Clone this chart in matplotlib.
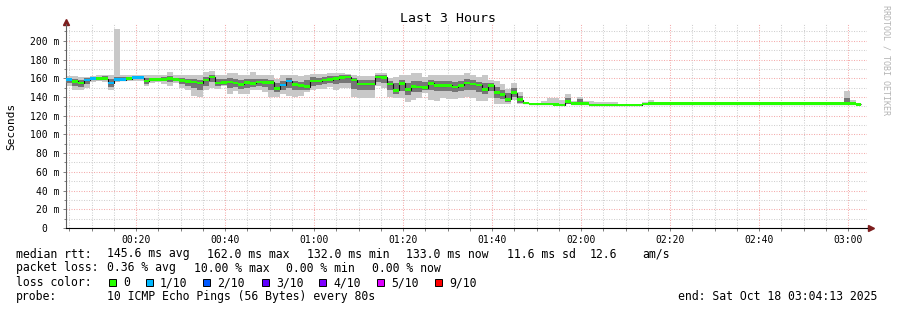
import numpy as np
import matplotlib
matplotlib.use('Agg')
import matplotlib.pyplot as plt
from matplotlib.patches import Rectangle

W, H = 897, 310
plt.rcParams['font.family'] = ['DejaVu Sans Mono']

# probe rounds: one every 80 s, first round starts at ~00:04:18
step_min = 80 / 60
t_first = 4.3
t_start = 4 + 13 / 60          # window start 00:04:13, 3 hours wide

# median rtt per round (ms)
median = [
    158.5, 156.7, 155.0, 158.0, 159.5, 159.5, 159.5, 155.0, 158.5, 158.5,
    159.5, 160.5, 160.5, 157.0, 158.5, 158.5, 159.0, 159.5, 158.5, 157.5,
    156.5, 156.0, 155.0, 158.0, 161.5, 155.0, 155.5, 156.0, 155.0, 153.5,
    155.5, 154.5, 156.0, 155.5, 155.5, 149.0, 153.0, 157.0, 153.5, 152.0,
    151.0, 157.0, 157.0, 158.0, 158.5, 159.5, 161.0, 161.5, 158.0, 154.0,
    154.0, 154.0, 161.5, 161.0, 154.0, 147.0, 154.5, 148.0, 151.0, 150.5,
    150.0, 154.5, 152.0, 152.0, 152.5, 150.5, 152.5, 155.0, 154.0, 153.0,
    148.0, 152.5, 144.5, 142.5, 137.5, 144.5, 137.0, 133.5, 132.5, 132.5,
    132.5, 132.5, 132.0, 131.5, 135.0, 133.0, 133.0, 133.0, 131.5, 131.5,
    131.5, 131.5, 131.5, 131.5, 131.5, 131.5, 131.5, 132.5, 133.0, 133.0,
    133.0, 133.0, 133.0, 133.0, 133.0, 133.0, 133.0, 133.0, 133.0, 133.0,
    133.0, 133.0, 133.0, 133.0, 133.0, 133.0, 133.0, 133.0, 133.0, 133.0,
    133.0, 133.0, 133.0, 133.0, 133.0, 133.0, 133.0, 133.0, 133.0, 133.0,
    133.0, 133.0, 133.0, 132.0,
]
# lost pings per round (out of 10)
loss = [
    1, 0, 0, 1, 1, 0, 0, 1, 1, 1,
    0, 1, 1, 0, 0, 0, 0, 0, 0, 0,
    0, 0, 0, 0, 0, 0, 0, 0, 0, 0,
    0, 0, 0, 0, 0, 0, 1, 1, 0, 0,
    0, 0, 0, 0, 0, 0, 0, 0, 0, 0,
    0, 0, 0, 0, 0, 0, 0, 0, 0, 0,
    0, 0, 0, 0, 0, 0, 0, 0, 0, 0,
    0, 0, 0, 0, 0, 0, 0, 0, 0, 0,
    0, 0, 0, 0, 0, 0, 0, 0, 0, 0,
    0, 0, 0, 0, 0, 0, 0, 0, 0, 0,
    0, 0, 0, 0, 0, 0, 0, 0, 0, 0,
    0, 0, 0, 0, 0, 0, 0, 0, 0, 0,
    0, 0, 0, 0, 0, 0, 0, 0, 0, 0,
    0, 0, 0, 0,
]
# smoke: fastest / slowest ping of each round
smoke_lo = [
    152, 148, 148, 150, 156, 157, 156, 148, 156, 157,
    157, 157, 157, 152, 155, 156, 154, 152, 155, 150,
    147, 141, 140, 147, 150, 149, 152, 143, 146, 143,
    143, 147, 148, 145, 140, 140, 143, 141, 140, 141,
    145, 148, 149, 149, 151, 148, 150, 150, 140, 139,
    139, 139, 152, 150, 140, 139, 139, 135, 137, 139,
    144, 137, 136, 139, 138, 138, 139, 140, 139, 136,
    136, 139, 133, 133, 133, 137, 133, 132, 131, 131,
    131, 131, 131, 131, 132, 132, 132, 132, 131, 131,
    131, 131, 131, 131, 131, 131, 131, 132, 132, 132,
    132, 132, 132, 132, 132, 132, 132, 132, 132, 132,
    132, 132, 132, 132, 132, 132, 132, 132, 132, 132,
    132, 132, 132, 132, 132, 132, 132, 132, 132, 132,
    132, 132, 132, 131,
]
smoke_hi = [
    162, 162, 161, 161, 162, 164, 164, 164, 213, 164,
    163, 163, 164, 164, 163, 164, 164, 167, 163, 163,
    163, 163, 163, 167, 168, 164, 163, 166, 166, 163,
    163, 167, 163, 163, 163, 159, 163, 163, 163, 162,
    163, 165, 165, 165, 166, 166, 166, 165, 163, 162,
    162, 162, 166, 166, 160, 161, 164, 163, 166, 166,
    161, 164, 164, 164, 163, 164, 163, 166, 164, 161,
    164, 158, 157, 154, 149, 155, 145, 134, 134, 134,
    136, 139, 139, 137, 143, 136, 140, 136, 136, 135,
    135, 135, 135, 133, 133, 133, 133, 135, 137, 134,
    134, 134, 134, 134, 134, 134, 134, 134, 134, 134,
    134, 134, 134, 134, 134, 134, 134, 134, 134, 134,
    134, 134, 134, 134, 134, 134, 134, 134, 134, 134,
    134, 146, 137, 134,
]
# denser middle part of the ping spread
core_lo = [
    155, 152, 151, 154, 158, 158, 158, 151, 157, 158,
    158, 159, 159, 154, 157, 157, 157, 156, 157, 154,
    152, 150, 148, 152, 156, 152, 153, 150, 151, 149,
    150, 151, 152, 151, 148, 145, 148, 150, 148, 147,
    148, 152, 153, 154, 155, 154, 155, 155, 149, 147,
    147, 147, 156, 155, 147, 143, 146, 142, 145, 145,
    147, 147, 146, 146, 146, 145, 146, 148, 147, 145,
    143, 146, 139, 138, 135, 140, 134, 132, 132, 132,
    132, 132, 131, 131, 133, 132, 132, 132, 131, 131,
    131, 131, 131, 131, 131, 131, 131, 132, 132, 132,
    132, 132, 132, 132, 132, 132, 132, 132, 132, 132,
    132, 132, 132, 132, 132, 132, 132, 132, 132, 132,
    132, 132, 132, 132, 132, 132, 132, 132, 132, 132,
    132, 132, 132, 131,
]
core_hi = [
    160, 159, 158, 160, 161, 161, 162, 159, 161, 161,
    161, 162, 162, 160, 160, 160, 161, 162, 160, 160,
    159, 159, 158, 161, 163, 159, 159, 160, 159, 158,
    159, 159, 159, 159, 158, 155, 157, 160, 157, 156,
    158, 161, 160, 161, 162, 162, 163, 163, 160, 158,
    158, 158, 164, 163, 157, 155, 158, 155, 157, 157,
    156, 158, 157, 157, 157, 156, 157, 159, 158, 156,
    155, 155, 151, 148, 144, 150, 141, 134, 134, 134,
    134, 134, 134, 133, 139, 134, 138, 134, 133, 133,
    133, 133, 133, 133, 133, 133, 133, 134, 134, 134,
    134, 134, 134, 134, 134, 134, 134, 134, 134, 134,
    134, 134, 134, 134, 134, 134, 134, 134, 134, 134,
    134, 134, 134, 134, 134, 134, 134, 134, 134, 134,
    134, 139, 135, 133,
]

loss_names = ['0', '1/10', '2/10', '3/10', '4/10', '5/10', '9/10']
loss_colors = ['#26ff00', '#00b8ff', '#0059ff', '#5e00ff', '#7e00ff', '#dd00ff', '#ff0000']

x_ticks = [20, 40, 60, 80, 100, 120, 140, 160, 180]
x_labels = ['00:20', '00:40', '01:00', '01:20', '01:40', '02:00', '02:20', '02:40', '03:00']
y_ticks = [0, 20, 40, 60, 80, 100, 120, 140, 160, 180, 200]
y_labels = ['0  ', '20 m', '40 m', '60 m', '80 m', '100 m', '120 m', '140 m',
            '160 m', '180 m', '200 m']

stats_rtt = ['median rtt:', '145.6 ms avg', '162.0 ms max', '132.0 ms min',
             '133.0 ms now', '11.6 ms sd', '12.6', 'am/s']
stats_loss = ['packet loss:', '0.36 % avg', '10.00 % max', '0.00 % min', '0.00 % now']
probe_text = '10 ICMP Echo Pings (56 Bytes) every 80s'
end_text = 'end: Sat Oct 18 03:04:13 2025'


def fx(px):
    return px / W


def fy(py):
    return 1 - py / H


fig = plt.figure(figsize=(W / 100, H / 100), dpi=100)
fig.patch.set_facecolor('white')
ax = fig.add_axes([fx(66), fy(228), 801 / W, 204 / H])
ax.set_facecolor('white')

n = len(median)
edges = t_first + step_min * np.arange(n + 1)
med = np.array(median)
lossa = np.array(loss)

ax.stairs(smoke_hi, edges, baseline=smoke_lo, fill=True, color='#c8c8c8', lw=0, zorder=2)
ax.stairs(core_hi, edges, baseline=core_lo, fill=True, color='#767676', lw=0, zorder=3)
ax.stairs(med, edges, baseline=None, color='#101010', lw=0.8, zorder=4)
half = 1.4
for k, col in enumerate(loss_colors):
    top = np.where(lossa == k, med + half, med - half)
    if (lossa == k).any():
        ax.stairs(top, edges, baseline=med - half, fill=True, color=col, lw=0, zorder=5)

ax.set_xlim(t_start, t_start + 180)
ax.set_ylim(0, 218)
ax.set_xticks(x_ticks)
ax.set_xticklabels(x_labels)
ax.set_xticks(np.arange(5, 181, 5), minor=True)
ax.set_yticks(y_ticks)
ax.set_yticklabels(y_labels)
ax.set_yticks(np.arange(10, 211, 20), minor=True)
ax.set_axisbelow(True)
ax.grid(which='minor', color='#d0d0d0', lw=0.75, linestyle=(0, (1, 1.4)))
ax.grid(which='major', color='#f4acac', lw=0.75, linestyle=(0, (1, 1.4)))
ax.tick_params(which='both', direction='out', length=2.5, width=0.7, color='#808080',
               labelsize=7, pad=2, labelcolor='#000000')
ax.tick_params(axis='y', which='minor', length=1.5)
ax.tick_params(axis='x', pad=2.5)

for s in ['top', 'right']:
    ax.spines[s].set_visible(False)
ax.spines['left'].set_color('#606060')
ax.spines['left'].set_linewidth(0.8)
ax.spines['bottom'].set_color('#000000')
ax.spines['bottom'].set_linewidth(0.8)
ax.plot([1.0, 1.004], [0, 0], color='black', lw=0.8, transform=ax.transAxes, clip_on=False)
ax.plot([0], [1.01], marker='^', ms=4.5, color='#7d1d1d', transform=ax.transAxes, clip_on=False)
ax.plot([1.005], [0], marker='>', ms=4.5, color='#7d1d1d', transform=ax.transAxes, clip_on=False)

fig.text(fx(448), fy(19), 'Last 3 Hours', ha='center', va='center', fontsize=9.5)
fig.text(fx(11), fy(126), 'Seconds', rotation=90, ha='center', va='center', fontsize=8)
fig.text(fx(886), fy(5), 'RRDTOOL / TOBI OETIKER', rotation=270, ha='center', va='top',
         fontsize=6, color='#b4b4b4')

fs = 8.3
rtt_x = [16, 107, 207, 307, 406, 507, 590, 642]
for xp, s in zip(rtt_x, stats_rtt):
    fig.text(fx(xp), fy(254), s, ha='left', va='center', fontsize=fs)
loss_x = [16, 107, 194, 286, 372]
for xp, s in zip(loss_x, stats_loss):
    fig.text(fx(xp), fy(268), s, ha='left', va='center', fontsize=fs)

fig.text(fx(16), fy(282.5), 'loss color:', ha='left', va='center', fontsize=fs)
box_x = [109, 146, 203, 262, 319, 377, 435]
for xp, name, col in zip(box_x, loss_names, loss_colors):
    fig.add_artist(Rectangle((fx(xp), fy(286)), 7 / W, 7 / H, transform=fig.transFigure,
                             facecolor=col, edgecolor='black', lw=0.7))
    fig.text(fx(xp + 14), fy(282.5), name, ha='left', va='center', fontsize=fs)

fig.text(fx(16), fy(296.5), 'probe:', ha='left', va='center', fontsize=fs)
fig.text(fx(107), fy(296.5), probe_text, ha='left', va='center', fontsize=fs)
fig.text(fx(678), fy(296.5), end_text, ha='left', va='center', fontsize=fs)

fig.savefig('out.png', dpi=100, facecolor='white')
